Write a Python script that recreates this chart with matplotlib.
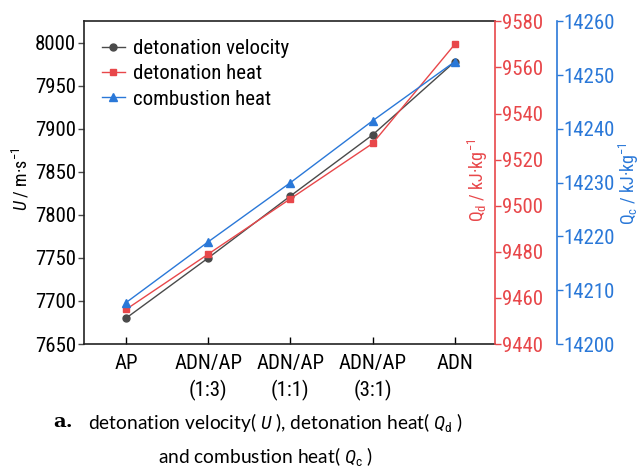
import matplotlib
matplotlib.use("Agg")
import matplotlib.pyplot as plt
from matplotlib import font_manager

categories = ["AP", "ADN/AP\n(1:3)", "ADN/AP\n(1:1)", "ADN/AP\n(3:1)", "ADN"]
U = [7680, 7750, 7822, 7893, 7978]
Qd = [9455, 9479, 9503, 9527, 9570]
Qc = [14207.7, 14219, 14230, 14241.5, 14252.5]

names = {f.name for f in font_manager.fontManager.ttflist}
tickfont = "Liberation Sans"
for cand in ["Roboto Condensed", "Archivo Narrow", "Liberation Sans Narrow", "Arimo"]:
    if cand in names:
        tickfont = cand
        break

plt.rcParams["font.family"] = [tickfont, "DejaVu Sans"]
plt.rcParams["mathtext.fontset"] = "custom"
plt.rcParams["mathtext.rm"] = tickfont
plt.rcParams["mathtext.it"] = tickfont + ":italic"

black = "#4a4a4a"
red = "#e8474a"
blue = "#2a78d8"

fig = plt.figure(figsize=(6.42, 4.69), dpi=100)
ax = fig.add_axes([0.131, 0.2665, 0.64, 0.688])
ax2 = ax.twinx()
ax3 = ax.twinx()

x = list(range(len(categories)))
l1, = ax.plot(x, U, color=black, marker="o", markersize=5, lw=1.0, label="detonation velocity")
l2, = ax2.plot(x, Qd, color=red, marker="s", markersize=5, lw=1.0, label="detonation heat")
l3, = ax3.plot(x, Qc, color=blue, marker="^", markersize=5.5, lw=1.0, label="combustion heat")

ax.set_xlim(-0.51, 4.49)
ax.set_ylim(7650, 8025)
ax.set_yticks([7650, 7700, 7750, 7800, 7850, 7900, 7950, 8000])
ax2.set_ylim(9440, 9580)
ax2.set_yticks(range(9440, 9581, 20))
ax3.set_ylim(14200, 14260)
ax3.set_yticks(range(14200, 14261, 10))

ax.set_xticks(x)
ax.set_xticklabels(categories, fontsize=15, linespacing=1.45)
ax.tick_params(axis="x", direction="in", length=5, width=1, pad=7)
ax.tick_params(axis="y", direction="out", length=4, width=1, labelsize=15, color=black, pad=2)

ax2.tick_params(axis="y", direction="out", length=4, width=1, colors=red, labelsize=15, pad=1)
ax3.tick_params(axis="y", direction="out", length=4, width=1, colors=blue, labelsize=15, pad=1)

for s in ["left", "top", "bottom"]:
    ax.spines[s].set_color("#222222")
    ax.spines[s].set_linewidth(1.2)
ax.spines["right"].set_visible(False)
for s in ["left", "top", "bottom"]:
    ax2.spines[s].set_visible(False)
    ax3.spines[s].set_visible(False)
ax2.spines["right"].set_color(red)
ax2.spines["right"].set_linewidth(1.2)
ax3.spines["right"].set_position(("outward", 44.6))
ax3.spines["right"].set_color(blue)
ax3.spines["right"].set_linewidth(1.2)

fig.text(0.033, 0.618, r"$\it{U}$ / m·s$^{-1}$", fontsize=13,
         rotation=90, ha="center", va="center")
fig.text(0.745, 0.616, r"Q$_{\rm d}$ / kJ·kg$^{-1}$", color=red, fontsize=13,
         rotation=90, ha="center", va="center")
fig.text(0.979, 0.608, r"Q$_{\rm c}$ / kJ·kg$^{-1}$", color=blue, fontsize=13,
         rotation=90, ha="center", va="center")

leg = ax3.legend(handles=[l1, l2, l3], loc="upper left", bbox_to_anchor=(0.0, 1.0),
                 frameon=False, fontsize=15, handlelength=1.1, handletextpad=0.4,
                 labelspacing=0.3, borderaxespad=0.5, borderpad=0.35)

capfont = ["Lato", "DejaVu Sans"]
fig.text(0.083, 0.100, "a.", fontsize=14, fontweight="bold", family="DejaVu Serif",
         ha="left", va="center")
fig.text(0.137, 0.100, r"detonation velocity( $\it{U}$ ), detonation heat( $\it{Q}_{\rm d}$ )",
         fontsize=13.8, family=capfont, ha="left", va="center")
fig.text(0.413, 0.026, r"and combustion heat( $\it{Q}_{\rm c}$ )",
         fontsize=13.8, family=capfont, ha="center", va="center")

fig.savefig("out.png", dpi=100)
